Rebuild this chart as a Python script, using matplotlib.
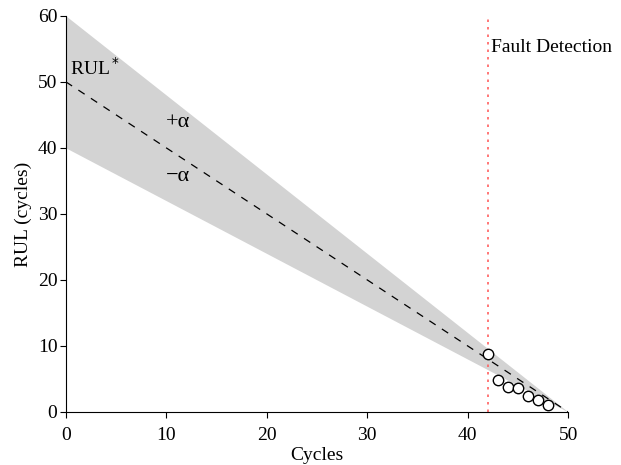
import numpy as np
import matplotlib.pyplot as plt

plt.rcParams['font.family'] = ['Liberation Serif', 'DejaVu Serif']

# Données
cycles_line = [0, 50]
rul_true = [50, 0]
rul_upper = [60, 0]
rul_lower = [40, 0]
fault_cycle = 42
obs_cycles = [42, 43, 44, 45, 46, 47, 48]
obs_rul = [8.8, 4.8, 3.8, 3.6, 2.4, 1.8, 1.1]

fig = plt.figure(figsize=(6.21, 4.65), dpi=100)
ax = fig.add_axes([0.106, 0.114, 0.809, 0.852])

ax.fill_between(cycles_line, rul_lower, rul_upper, color='#d3d3d3', linewidth=0)
ax.plot(cycles_line, rul_true, color='black', linestyle=(0, (6, 6)), linewidth=0.9)
ax.axvline(fault_cycle, color='#ff6060', linestyle=(0, (1.5, 3)), linewidth=1.2)
ax.plot(obs_cycles, obs_rul, 'o', markerfacecolor='white', markeredgecolor='black',
        markersize=7.5, markeredgewidth=1.0)

ax.text(0.4, 52.1, 'RUL$^*$', fontsize=14, va='center')
ax.text(10.0, 43.8, '+α', fontsize=16, va='center')
ax.text(10.0, 35.6, '−α', fontsize=16, va='center')
ax.text(42.3, 55.2, 'Fault Detection', fontsize=14, va='center')

ax.set_xlim(0, 50)
ax.set_ylim(0, 60)
ax.set_xticks([0, 10, 20, 30, 40, 50])
ax.set_yticks([0, 10, 20, 30, 40, 50, 60])
ax.set_xlabel('Cycles', fontsize=14, labelpad=2)
ax.set_ylabel('RUL (cycles)', fontsize=14, labelpad=4)
ax.tick_params(labelsize=14, direction='out', length=4)
ax.tick_params(axis='x', pad=7)
ax.tick_params(axis='y', pad=2)
ax.spines['top'].set_visible(False)
ax.spines['right'].set_visible(False)

fig.savefig('out.png', dpi=100)
